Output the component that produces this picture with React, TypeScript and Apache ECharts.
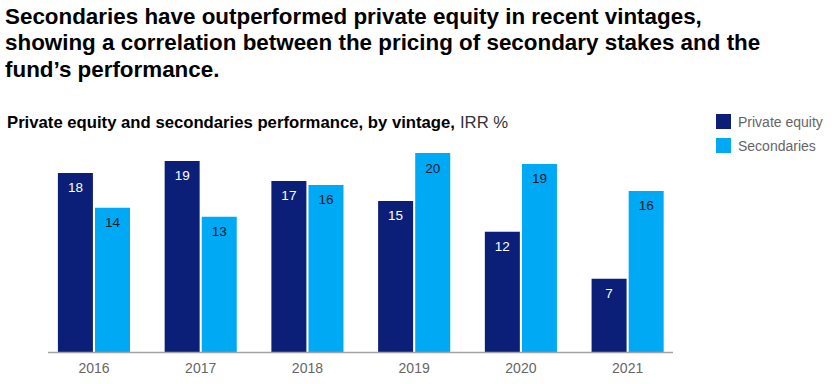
import React, { useEffect, useRef } from "react";
import * as echarts from "echarts";

const vintages = ["2016", "2017", "2018", "2019", "2020", "2021"];
// bar heights (IRR %)
const privateEquity = [18.0, 19.2, 17.2, 15.2, 12.1, 7.4];
const secondaries = [14.5, 13.6, 16.8, 20.0, 18.9, 16.2];
// printed labels
const privateEquityLabels = ["18", "19", "17", "15", "12", "7"];
const secondariesLabels = ["14", "13", "16", "20", "19", "16"];

const titleLines = [
  "Secondaries have outperformed private equity in recent vintages,",
  "showing a correlation between the pricing of secondary stakes and the",
  "fund’s performance.",
];
const subtitleBold = "Private equity and secondaries performance, by vintage,";
const subtitleUnit = "IRR %";

const PE_COLOR = "#0b1f78";
const SEC_COLOR = "#00a9f4";
const FONT = "'Liberation Sans', Arial, sans-serif";

export default function App() {
  const ref = useRef<HTMLDivElement>(null);
  useEffect(() => {
    if (!ref.current) return;
    const chart = echarts.init(ref.current, null, { renderer: "svg" });
    chart.setOption({
      animation: false,
      backgroundColor: "#ffffff",
      textStyle: { fontFamily: FONT },
      title: [
        {
          text: titleLines.join("\n"),
          left: 5,
          top: 3,
          padding: 0,
          textStyle: {
            fontFamily: FONT,
            fontSize: 22.4,
            fontWeight: "bold",
            color: "#000000",
            lineHeight: 26.5,
          },
        },
        {
          text: `{b|${subtitleBold}} {r|${subtitleUnit}}`,
          left: 7,
          top: 113,
          padding: 0,
          textStyle: {
            fontWeight: "normal",
            rich: {
              b: { fontFamily: FONT, fontSize: 16.7, fontWeight: "bold", color: "#000" },
              r: { fontFamily: FONT, fontSize: 16.7, fontWeight: "normal", color: "#333" },
            },
          },
        },
      ],
      legend: {
        orient: "vertical",
        left: 716,
        top: 114,
        padding: 0,
        itemWidth: 15,
        itemHeight: 15,
        itemGap: 9,
        icon: "rect",
        textStyle: { fontFamily: FONT, fontSize: 14, color: "#666", padding: [0, 0, 0, 2] },
        data: ["Private equity", "Secondaries"],
      },
      grid: { left: 40.6, right: 154, top: 153, bottom: 31.5 },
      xAxis: {
        type: "category",
        data: vintages,
        axisLine: { show: false },
        axisTick: { show: false },
        axisLabel: { fontFamily: FONT, fontSize: 14, color: "#666", margin: 8 },
      },
      yAxis: {
        type: "value",
        min: 0,
        max: 20,
        show: false,
        splitLine: { show: false },
      },
      graphic: [
        {
          type: "line",
          shape: { x1: 48, y1: 352.5, x2: 673, y2: 352.5 },
          style: { stroke: "#a3a3a3", lineWidth: 1.5 },
          z: 10,
        },
      ],
      series: [
        {
          name: "Private equity",
          type: "bar",
          data: privateEquity,
          barWidth: 35,
          barGap: "6%",
          itemStyle: { color: PE_COLOR },
          label: {
            show: true,
            position: "insideTop",
            distance: 8,
            fontFamily: FONT,
            fontSize: 13.5,
            color: "#ffffff",
            formatter: (p: any) => privateEquityLabels[p.dataIndex],
          },
        },
        {
          name: "Secondaries",
          type: "bar",
          data: secondaries,
          barWidth: 35,
          itemStyle: { color: SEC_COLOR },
          label: {
            show: true,
            position: "insideTop",
            distance: 8,
            fontFamily: FONT,
            fontSize: 13.5,
            color: "#051c2c",
            formatter: (p: any) => secondariesLabels[p.dataIndex],
          },
        },
      ],
    });
    return () => chart.dispose();
  }, []);
  return (
    <div
      ref={ref}
      style={{ position: "fixed", left: 0, top: 0, width: 835, height: 384 }}
    />
  );
}
